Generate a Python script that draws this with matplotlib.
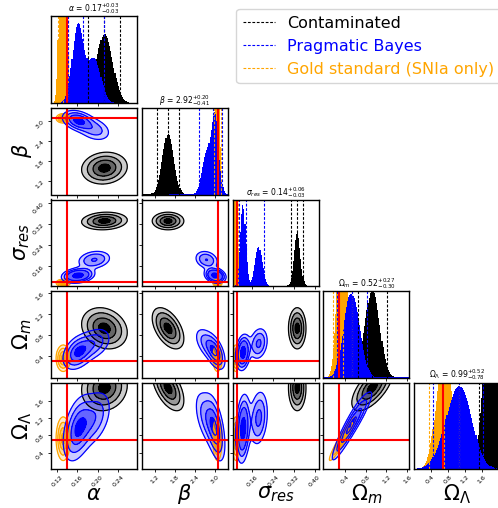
import numpy as np
import matplotlib
matplotlib.use('Agg')
import matplotlib.pyplot as plt
from matplotlib.colors import to_rgba
from matplotlib.lines import Line2D

# parameters of the corner plot
names = [r'$\alpha$', r'$\beta$', r'$\sigma_{res}$', r'$\Omega_m$', r'$\Omega_\Lambda$']
truths = [0.14, 3.1, 0.1, 0.3, 0.7]
lims = [(0.108, 0.277), (0.81, 3.40), (0.085, 0.415), (-0.007, 1.64), (0.02, 2.02)]
ticks = [[0.12, 0.16, 0.20, 0.24], [1.2, 1.8, 2.4, 3.0], [0.16, 0.24, 0.32, 0.40],
         [0.4, 0.8, 1.2, 1.6], [0.4, 0.8, 1.2, 1.6]]
tick_labels = [['0.12', '0.16', '0.20', '0.24'], ['1.2', '1.8', '2.4', '3.0'],
               ['0.16', '0.24', '0.32', '0.40'], ['0.4', '0.8', '1.2', '1.6'],
               ['0.4', '0.8', '1.2', '1.6']]
titles = [r'$\alpha$ = $0.17^{+0.03}_{-0.03}$',
          r'$\beta$ = $2.92^{+0.20}_{-0.41}$',
          r'$\sigma_{res}$ = $0.14^{+0.06}_{-0.03}$',
          r'$\Omega_m$ = $0.52^{+0.27}_{-0.30}$',
          r'$\Omega_\Lambda$ = $0.99^{+0.52}_{-0.78}$']

# posterior summaries (alpha, beta, sigma_res, Om, OL)
contam_weight = [1.0]
contam_mean = [[0.213, 1.60, 0.333, 0.93, 1.90]]
contam_std = [[0.016, 0.17, 0.012, 0.14, 0.19]]
contam_corr = [[1.0, 0.1, 0.1, -0.2, 0.1],
               [0.1, 1.0, 0.0, -0.5, -0.55],
               [0.1, 0.0, 1.0, 0.0, 0.0],
               [-0.2, -0.5, 0.0, 1.0, 0.65],
               [0.1, -0.55, 0.0, 0.65, 1.0]]
contam_peak = [0.80, 0.70, 0.62, 1.02, 3.3]

prag_weight = [0.6, 0.4]
prag_mean = [[0.161, 3.02, 0.125, 0.47, 0.95],
             [0.193, 2.76, 0.185, 0.64, 1.20]]
prag_std = [[0.011, 0.11, 0.010, 0.12, 0.28],
            [0.013, 0.14, 0.014, 0.12, 0.25]]
prag_corr = [[1.0, -0.3, 0.2, 0.35, 0.4],
             [-0.3, 1.0, -0.2, -0.5, -0.5],
             [0.2, -0.2, 1.0, 0.2, 0.2],
             [0.35, -0.5, 0.2, 1.0, 0.93],
             [0.4, -0.5, 0.2, 0.93, 1.0]]
prag_peak = [0.93, 0.95, 0.94, 0.97, 0.96]

gold_weight = [1.0]
gold_mean = [[0.132, 3.09, 0.097, 0.36, 0.72]]
gold_std = [[0.005, 0.05, 0.005, 0.09, 0.18]]
gold_corr = [[1.0, 0.0, 0.0, 0.0, 0.0],
             [0.0, 1.0, 0.0, 0.0, 0.0],
             [0.0, 0.0, 1.0, 0.0, 0.0],
             [0.0, 0.0, 0.0, 1.0, 0.95],
             [0.0, 0.0, 0.0, 0.95, 1.0]]
gold_peak = [6.0, 4.0, 4.0, 2.1, 1.35]

masses = [0.118, 0.393, 0.675, 0.865]
quants = [0.025, 0.5, 0.975]
smooth2d = 1.4   # 2d contours in the original come from smoothed histograms

# drawing order: black, orange, blue (blue ends up on top)
sets = [
    dict(label='Contaminated', color='black', w=contam_weight, mu=contam_mean,
         sd=contam_std, corr=contam_corr, peak=contam_peak),
    dict(label='Gold standard (SNIa only)', color='orange', w=gold_weight, mu=gold_mean,
         sd=gold_std, corr=gold_corr, peak=gold_peak),
    dict(label='Pragmatic Bayes', color='blue', w=prag_weight, mu=prag_mean,
         sd=prag_std, corr=prag_corr, peak=prag_peak),
]


def pdf1d(x, ds, k):
    tot = 0
    for w, mu, sd in zip(ds['w'], ds['mu'], ds['sd']):
        tot = tot + w * np.exp(-0.5 * ((x - mu[k]) / sd[k]) ** 2) / sd[k]
    return tot


def pdf2d(X, Y, ds, kx, ky):
    r = ds['corr'][kx][ky]
    tot = 0
    for w, mu, sd in zip(ds['w'], ds['mu'], ds['sd']):
        sx = sd[kx] * smooth2d
        sy = sd[ky] * smooth2d
        dx = (X - mu[kx]) / sx
        dy = (Y - mu[ky]) / sy
        z = (dx ** 2 - 2 * r * dx * dy + dy ** 2) / (1 - r ** 2)
        tot = tot + w * np.exp(-0.5 * z) / (sx * sy * np.sqrt(1 - r ** 2))
    return tot


def wide(ds, k, n=400):
    lo = min(mu[k] - 8 * sd[k] for mu, sd in zip(ds['mu'], ds['sd']))
    hi = max(mu[k] + 8 * sd[k] for mu, sd in zip(ds['mu'], ds['sd']))
    return np.linspace(lo, hi, n)


def levels2d(ds, kx, ky):
    X, Y = np.meshgrid(wide(ds, kx, 300), wide(ds, ky, 300))
    H = pdf2d(X, Y, ds, kx, ky).ravel()
    H = np.sort(H)[::-1]
    cum = np.cumsum(H) / H.sum()
    t = [H[np.searchsorted(cum, m)] for m in masses]
    return sorted(t)


def quantiles(ds, k):
    x = wide(ds, k, 4000)
    c = np.cumsum(pdf1d(x, ds, k))
    c = c / c[-1]
    return np.interp(quants, c, x)


fig = plt.figure(figsize=(4.98, 5.08), dpi=100)
W, Hpx = 498.0, 508.0
n = len(names)
axes = {}
for i in range(n):
    for j in range(i + 1):
        left = 51 + 90.8 * j
        top = 16.5 + 91.5 * i
        ax = fig.add_axes([left / W, 1 - (top + 86.5) / Hpx, 86 / W, 86.5 / Hpx])
        axes[(i, j)] = ax

for i in range(n):
    for j in range(i + 1):
        ax = axes[(i, j)]
        if i == j:
            lo, hi = lims[i]
            edges = np.linspace(lo, hi, 81)
            cen = 0.5 * (edges[1:] + edges[:-1])
            for ds in sets:
                scale = ds['peak'][i] / pdf1d(wide(ds, i, 2000), ds, i).max()
                ax.stairs(pdf1d(cen, ds, i) * scale, edges, fill=True,
                          color=ds['color'], lw=0)
            for ds in sets:
                for q in quantiles(ds, i):
                    ax.axvline(q, color=ds['color'], ls=(0, (2.5, 1.5)), lw=0.8)
            ax.axvline(truths[i], color='red', lw=1.5)
            ax.set_xlim(lo, hi)
            ax.set_ylim(0, 1)
            ax.set_yticks([])
            ax.set_title(titles[i], fontsize=5.5, pad=2)
        else:
            xs = np.linspace(lims[j][0], lims[j][1], 160)
            ys = np.linspace(lims[i][0], lims[i][1], 160)
            X, Y = np.meshgrid(xs, ys)
            for ds in sets:
                t = levels2d(ds, j, i)
                Hd = pdf2d(X, Y, ds, j, i)
                rgb = to_rgba(ds['color'])[:3]
                fills = [rgb + (0.2,), rgb + (0.4,), rgb + (0.6,), rgb + (1.0,)]
                top_level = max(Hd.max(), t[-1]) * 1.01 + 1e-12
                ax.contourf(X, Y, Hd, levels=t + [top_level], colors=fills)
                if Hd.max() > t[0]:
                    ax.contour(X, Y, Hd, levels=t, colors=ds['color'], linewidths=0.9)
            ax.axvline(truths[j], color='red', lw=1.5)
            ax.axhline(truths[i], color='red', lw=1.5)
            ax.set_xlim(lims[j])
            ax.set_ylim(lims[i])
            ax.set_yticks(ticks[i])
            if j == 0:
                ax.set_yticklabels(tick_labels[i], rotation=45)
            else:
                ax.set_yticklabels([])
        ax.set_xticks(ticks[j])
        if i == n - 1:
            ax.set_xticklabels(tick_labels[j], rotation=45)
        else:
            ax.set_xticklabels([])
        ax.tick_params(labelsize=4.5, length=2.5, width=0.6, pad=1.5)
        for s in ax.spines.values():
            s.set_linewidth(1.0)

# axis labels
for k in range(n):
    fig.text((51 + 90.8 * k + 43) / W, 1 - 494 / Hpx, names[k],
             ha='center', va='center', fontsize=15)
for k in range(1, n):
    fig.text(22 / W, 1 - (16.5 + 91.5 * k + 43) / Hpx, names[k],
             ha='center', va='center', fontsize=15, rotation=90)

handles = [Line2D([0], [0], color='black', ls=(0, (2.5, 1.5)), lw=0.8),
           Line2D([0], [0], color='blue', ls=(0, (2.5, 1.5)), lw=0.8),
           Line2D([0], [0], color='orange', ls=(0, (2.5, 1.5)), lw=0.8)]
fig.legend(handles, ['Contaminated', 'Pragmatic Bayes', 'Gold standard (SNIa only)'],
           loc='upper right', bbox_to_anchor=(1.006, 0.982), fontsize=11.5,
           labelcolor='linecolor', borderaxespad=0)

fig.savefig('out.png', dpi=100)
